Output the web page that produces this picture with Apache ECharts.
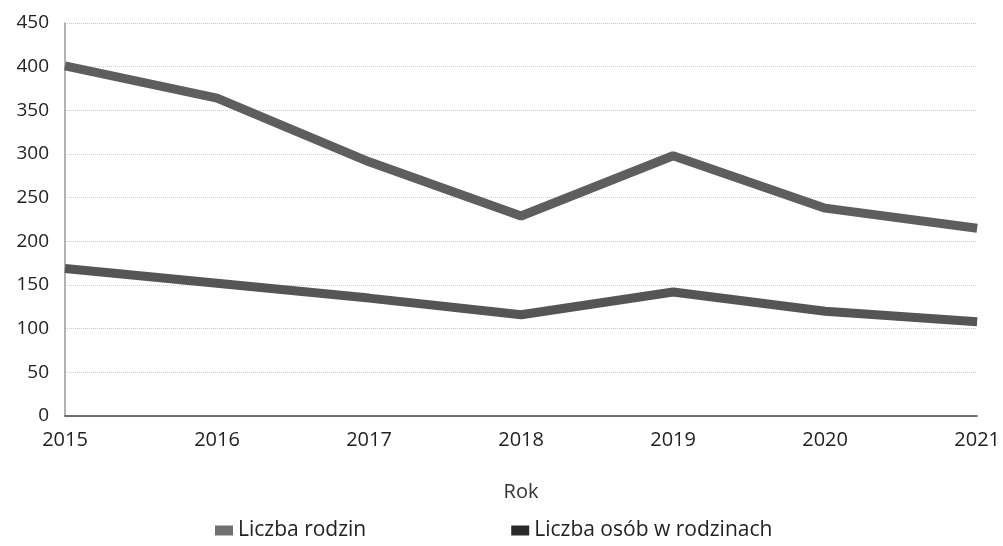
<!DOCTYPE html>
<html><head><meta charset="utf-8">
<script src="https://cdn.jsdelivr.net/npm/echarts@6/dist/echarts.min.js"></script>
<style>html,body{margin:0;padding:0;background:#fff}#c{width:1003px;height:546px}</style>
</head><body><div id="c"></div>
<script>
const years = ['2015','2016','2017','2018','2019','2020','2021'];
const rodziny = [401, 364, 291, 229, 298, 238, 215];
const osoby = [169, 152, 135, 116, 142, 120, 108];
const seriesNames = ['Liczba rodzin', 'Liczba osób w rodzinach'];

const chart = echarts.init(document.getElementById('c'));
const font = '"Open Sans", "Noto Sans", sans-serif';
chart.setOption({
  backgroundColor: '#fff',
  animation: false,
  grid: {left: 65, right: 25, top: 23, bottom: 130},
  xAxis: {
    type: 'category', data: years, boundaryGap: false,
    name: 'Rok', nameLocation: 'middle', nameGap: 66,
    nameTextStyle: {fontFamily: font, fontSize: 20, color: '#333'},
    axisLine: {lineStyle: {color: '#444', width: 1.5}},
    axisTick: {show: false},
    axisLabel: {fontFamily: font, fontSize: 20, color: '#222', margin: 14},
    splitLine: {show: false}
  },
  yAxis: {
    type: 'value', min: 0, max: 450, interval: 50,
    axisLine: {show: true, lineStyle: {color: '#999', width: 1.5}},
    axisTick: {show: false},
    axisLabel: {fontFamily: font, fontSize: 19, color: '#222', margin: 16},
    splitLine: {lineStyle: {color: '#ccc', type: 'dotted', width: 1}}
  },
  legend: {
    bottom: 0, left: 210, itemGap: 145, itemWidth: 18, itemHeight: 10, icon: 'rect',
    textStyle: {fontFamily: font, fontSize: 21, color: '#222'},
    data: [
      {name: seriesNames[0], itemStyle: {color: '#707070'}},
      {name: seriesNames[1], itemStyle: {color: '#2a2a2a'}}
    ]
  },
  series: [
    {name: seriesNames[0], type: 'line', data: rodziny, showSymbol: false,
     lineStyle: {color: '#5e5e5e', width: 9}, itemStyle: {color: '#5e5e5e'}},
    {name: seriesNames[1], type: 'line', data: osoby, showSymbol: false,
     lineStyle: {color: '#555', width: 9}, itemStyle: {color: '#555'}}
  ]
});
</script></body></html>
